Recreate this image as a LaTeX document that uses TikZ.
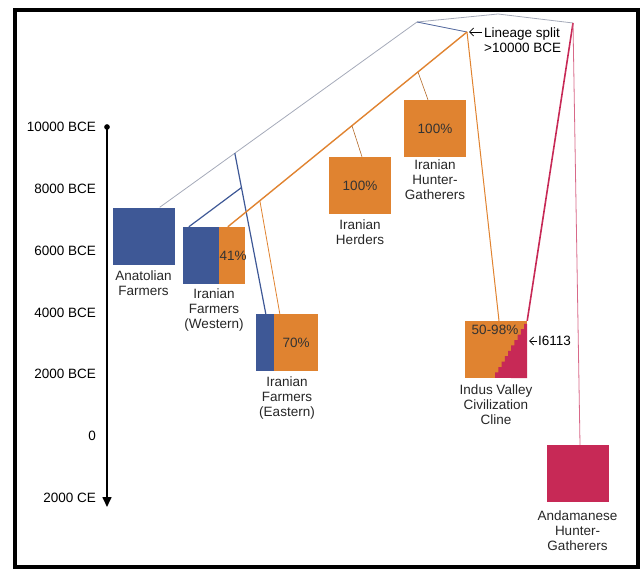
\documentclass[tikz,border=0pt]{standalone}
\usepackage{fontspec}
\setmainfont{Liberation Sans}
\usetikzlibrary{calc, positioning, arrows.meta}
\definecolor{farmblue}{RGB}{62,88,150}
\definecolor{herdorange}{RGB}{224,131,48}
\definecolor{andpink}{RGB}{199,41,86}
\definecolor{oldgray}{RGB}{165,170,185}
\tikzset{popbox/.style={rectangle, minimum width=62pt, minimum height=57pt, inner sep=0pt},
 poplabel/.style={align=center, inner sep=0pt, text=black!85},
 share/.style={text=black!80}}
\newcommand*{\yrstep}{61.8}

\begin{document}
\begin{tikzpicture}[x=1pt, y=-1pt, font=\fontsize{13.5}{15}\selectfont, >={Straight Barb[length=4pt]}]
 \useasboundingbox (0,0) rectangle (642,572);
 \draw[line width=4pt] (15,10) rectangle (638,567);
 % time axis
 \node[circle, fill, inner sep=2pt] (t0) at (107,127) {};
 \coordinate (tend) at (107,507);
 \draw[line width=1.6pt, -{Triangle[length=10pt, width=9pt]}] (t0.center) -- (tend);
 \foreach \i/\yr in {0/10000 BCE, 1/8000 BCE, 2/6000 BCE, 3/4000 BCE, 4/2000 BCE, 5/0, 6/2000 CE}
  \node[anchor=east, inner sep=0pt] at (96,127+\yrstep*\i) {\yr};
 % populations
 \node[popbox, fill=farmblue] (ana) at (143.5,236) {};
 \node[popbox, fill=herdorange] (wf) at (214,255.5) {};
 \fill[farmblue] (wf.north west) rectangle ([xshift=36pt]wf.south west);
 \node[share] at ([xshift=-12pt]wf.east) {41\%};
 \node[popbox, fill=herdorange] (ef) at (287,342.5) {};
 \fill[farmblue] (ef.north west) rectangle ([xshift=18pt]ef.south west);
 \node[share] at ([xshift=-22pt]ef.east) {70\%};
 \node[popbox, fill=herdorange] (herd) at (360,185.5) {};
 \node[share] at (herd.center) {100\%};
 \node[popbox, fill=herdorange] (hg) at (435,128.5) {};
 \node[share] at (hg.center) {100\%};
 \node[popbox, fill=herdorange] (ivc) at (496,349.5) {};
 \fill[andpink] ($(ivc.north east)+(0,3)$) \foreach \i in {1,...,10} { -| ++(-3.2,5.4) } -- (ivc.south east) -- cycle;
 \node[share] at ($(ivc.north)+(-1,9)$) {50-98\%};
 \node[popbox, fill=andpink] (and) at (577.5,473.5) {};
 % labels
 \node[poplabel, below=6pt of ana] {Anatolian\\Farmers};
 \node[poplabel, below=4pt of wf] {Iranian\\Farmers\\(Western)};
 \node[poplabel, below=5pt of ef] {Iranian\\Farmers\\(Eastern)};
 \node[poplabel, below=5pt of herd] {Iranian\\Herders};
 \node[poplabel, below=2pt of hg] {Iranian\\Hunter-\\Gatherers};
 \node[poplabel, below=6pt of ivc] {Indus Valley\\Civilization\\Cline};
 \node[poplabel, below=8pt of and] {Andamanese\\Hunter-\\Gatherers};
 % tree
 \coordinate (root) at (498,14);
 \coordinate (anasplit) at (417,22);
 \coordinate (asisplit) at (573,23);
 \coordinate (split) at (467,32);
 \draw[oldgray, line width=0.8pt] ([xshift=-15pt]ana.north east) -- (anasplit) coordinate[pos=0.292] (bluetop) -- (root) -- (asisplit);
 \draw[farmblue!80!oldgray, line width=0.8pt] (anasplit) -- (split);
 \draw[farmblue, line width=1.2pt] (bluetop) -- ([xshift=10pt]ef.north west) coordinate[pos=0.214] (bluefork);
 \draw[farmblue, line width=1.2pt] (bluefork) -- ([xshift=6pt]wf.north west);
 \draw[herdorange, line width=1.4pt] ([xshift=45pt]wf.north west) -- (split)
  coordinate[pos=0.134] (eastfork) coordinate[pos=0.519] (herdfork) coordinate[pos=0.795] (hgfork);
 \draw[herdorange, line width=0.8pt] (eastfork) -- ([xshift=24pt]ef.north west);
 \draw[herdorange!80!black, line width=0.6pt] (herdfork) -- ([xshift=2pt]herd.north);
 \draw[herdorange!80!black, line width=0.6pt] (hgfork) -- ([xshift=-7pt]hg.north);
 \draw[herdorange, line width=1pt] (split) -- ([xshift=3pt]ivc.north);
 \draw[andpink, line width=1.6pt] (asisplit) -- (ivc.north east);
 \draw[andpink!70, line width=0.8pt] (asisplit) -- ([xshift=2.5pt]and.north);
 % notes
 \node[anchor=west, align=left, inner sep=0pt] (splitnote) at (484,40) {Lineage split\\>10000 BCE};
 \draw[->, line width=0.8pt] ([xshift=-2pt]splitnote.west |- split) -- ([xshift=2pt]split);
 \node[anchor=west, inner sep=0pt] (samplenote) at (538,341) {I6113};
 \draw[->, line width=0.8pt] ([xshift=-1pt]samplenote.west) -- ++(-8,0);
\end{tikzpicture}
\end{document}
